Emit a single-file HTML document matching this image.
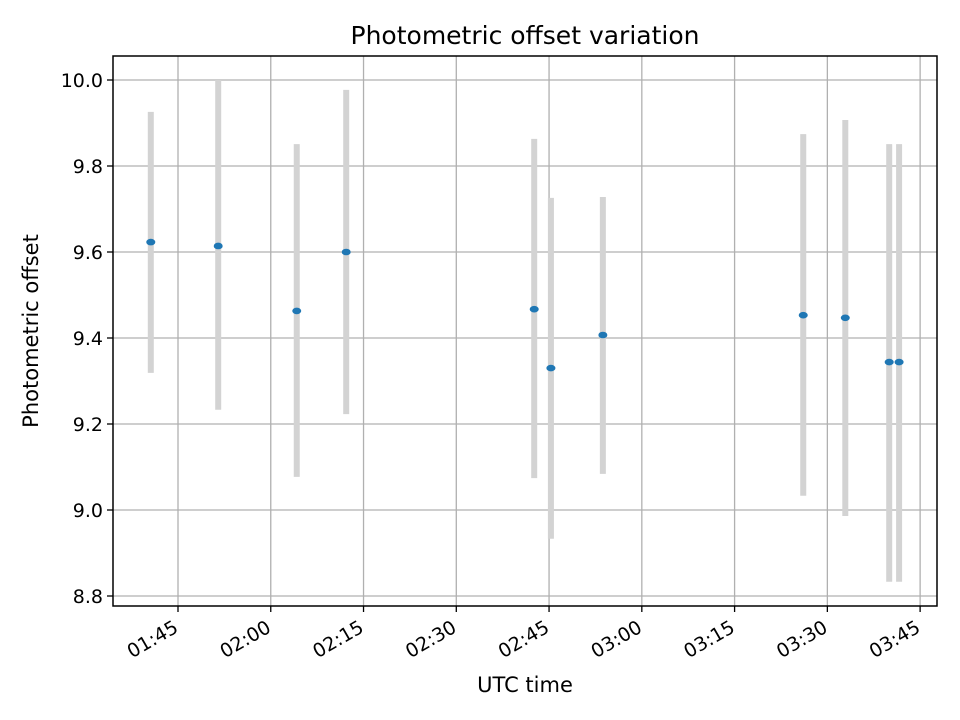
<!DOCTYPE html>
<html><head><meta charset="utf-8"><style>
html,body{margin:0;padding:0;background:#fff;}
svg{display:block;font-family:"DejaVu Sans","Liberation Sans",sans-serif;}
</style></head><body>
<svg id="chart" width="960" height="720" xmlns="http://www.w3.org/2000/svg">
<rect x="0" y="0" width="960" height="720" fill="#fff"/>
<g id="grid"></g>
<g id="marks"></g>
<rect x="113" y="56" width="824" height="550" fill="none" stroke="#000" stroke-width="1.5"/>
<g id="axes"></g>
<text x="525" y="44" text-anchor="middle" font-size="25">Photometric offset variation</text>
<text x="525" y="692" text-anchor="middle" font-size="21">UTC time</text>
<text transform="translate(38,331) rotate(-90)" text-anchor="middle" font-size="21">Photometric offset</text>
</svg>
<script>
// times in minutes after 01:45
const times = [-4.4, 6.5, 19.2, 27.2, 57.6, 60.3, 68.7, 101.1, 107.9, 115.0, 116.6];
const values = [9.623, 9.614, 9.463, 9.600, 9.467, 9.330, 9.407, 9.453, 9.447, 9.344, 9.344];
const upper = [9.926, 10.0, 9.851, 9.977, 9.863, 9.726, 9.728, 9.874, 9.907, 9.851, 9.851];
const lower = [9.319, 9.233, 9.077, 9.223, 9.074, 8.933, 9.084, 9.033, 8.986, 8.833, 8.833];
const xTicks = [0, 15, 30, 45, 60, 75, 90, 105, 120];
const xTickLabels = ["01:45","02:00","02:15","02:30","02:45","03:00","03:15","03:30","03:45"];
const yTicks = [8.8, 9.0, 9.2, 9.4, 9.6, 9.8, 10.0];
const yTickLabels = ["8.8","9.0","9.2","9.4","9.6","9.8","10.0"];

const L=113,R=937,T=56,B=606;
const xMin=-10.51, xMax=122.73;
const yMin=8.8-(606-596)/430, yMax=10.0+(80-56)/430;
const X=v=>L+(v-xMin)/(xMax-xMin)*(R-L);
const Y=v=>B-(v-yMin)/(yMax-yMin)*(B-T);
const NS="http://www.w3.org/2000/svg";
function mk(tag,attrs,parent){const e=document.createElementNS(NS,tag);for(const k in attrs)e.setAttribute(k,attrs[k]);parent.appendChild(e);return e;}
const grid=document.getElementById('grid'),marks=document.getElementById('marks'),axes=document.getElementById('axes');
xTicks.forEach((t,i)=>{
  const x=X(t);
  const g=mk('line',{x1:x,x2:x,y1:T,y2:B,stroke:'#b0b0b0','stroke-width':1.3},grid);
  
  
  const tk=mk('line',{x1:x,x2:x,y1:B,y2:B+6,stroke:'#000','stroke-width':1.3},axes);
  
  
  const ax=x-2, ay=B+26;
  const tx=mk('text',{x:ax,y:ay,'text-anchor':'end','font-size':19,transform:`rotate(-30 ${ax} ${ay-7})`},axes);
  tx.textContent=xTickLabels[i];
  
  
});
yTicks.forEach((t,i)=>{
  const y=Y(t);
  const g=mk('line',{x1:L,x2:R,y1:y,y2:y,stroke:'#b0b0b0','stroke-width':1.3},grid);
  
  
  const tk=mk('line',{x1:L-6,x2:L,y1:y,y2:y,stroke:'#000','stroke-width':1.3},axes);
  
  
  const tx=mk('text',{x:L-10,y:y+7,'text-anchor':'end','font-size':19},axes);
  tx.textContent=yTickLabels[i];
  
  
});
times.forEach((t,i)=>{
  const x=X(t);
  const eb=mk('line',{x1:x,x2:x,y1:Y(upper[i]),y2:Y(lower[i]),stroke:'#d3d3d3','stroke-width':6},marks);
  
  
});
times.forEach((t,i)=>{
  const p=mk('ellipse',{cx:X(t),cy:Y(values[i]),rx:4.5,ry:3.3,fill:'#1f77b4'},marks);
  
  
});
</script>
</body></html>
